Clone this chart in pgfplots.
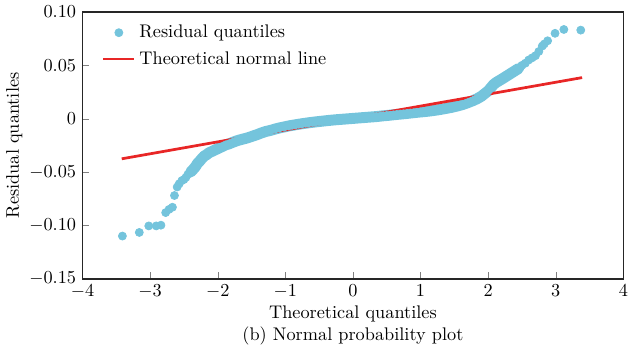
\documentclass[border=0pt]{standalone}
\usepackage{pgfplots}
\pgfplotsset{compat=1.18}
\definecolor{qblue}{RGB}{116,196,220}
\definecolor{qred}{RGB}{232,38,38}
\begin{document}
\begin{tikzpicture}
\begin{axis}[
  scale only axis,
  width=296pt, height=146pt,
  xmin=-4, xmax=4, ymin=-0.15, ymax=0.10,
  xtick={-4,-3,...,4},
  ytick={-0.15,-0.10,-0.05,0,0.05,0.10},
  yticklabels={$-0.15$,$-0.10$,$-0.05$,$0$,$0.05$,$0.10$},
  xtick pos=bottom, ytick pos=left,
  tick align=inside,
  major tick length=3.5pt,
  axis line style={line width=0.9pt, draw=black!85},
  xlabel={Theoretical quantiles\\(b) Normal probability plot},
  xlabel style={align=center, yshift=3pt},
  ylabel={Residual quantiles},
  ylabel style={yshift=-3pt},
  legend style={draw=none, fill=none, at={(0.025,0.98)}, anchor=north west, font=\normalsize, row sep=2pt},
  legend cell align=left,
]
\addplot[only marks, mark=*, mark size=2.2pt, color=qblue, mark options={draw=qblue, fill=qblue}] coordinates {
(-3.41,-0.110) (-3.16,-0.1066) (-3.02,-0.1005) (-2.91,-0.1005) (-2.84,-0.0998)
(-2.77,-0.088) (-2.72,-0.085) (-2.67,-0.083) (-2.64,-0.072)
(-2.60,-0.064) (-2.57,-0.061) (-2.53,-0.058) (-2.50,-0.057) (-2.47,-0.055)
(-2.44,-0.052) (-2.40,-0.050) (-2.37,-0.048) (-2.33,-0.045) (-2.30,-0.042)
(-2.27,-0.040) (-2.23,-0.037) (-2.20,-0.035) (-2.17,-0.034) (-2.13,-0.032)
(-2.08,-0.0305) (-2.03,-0.029) (-1.98,-0.0275) (-1.93,-0.026) (-1.88,-0.0245)
(-1.83,-0.0235) (-1.78,-0.0222) (-1.73,-0.021) (-1.68,-0.020) (-1.62,-0.019)
(-1.56,-0.018) (-1.49,-0.0165) (-1.42,-0.015) (-1.36,-0.0135) (-1.29,-0.012)
(-1.22,-0.011) (-1.15,-0.0097) (-1.09,-0.0087) (-1.02,-0.0078) (-0.95,-0.0068)
(-0.90,-0.0062) (-0.85,-0.0057) (-0.80,-0.0052) (-0.75,-0.0047) (-0.70,-0.0042)
(-0.65,-0.0038) (-0.60,-0.0034) (-0.55,-0.0030) (-0.50,-0.0026) (-0.45,-0.0023)
(-0.40,-0.0019) (-0.35,-0.0016) (-0.30,-0.0013) (-0.25,-0.0010) (-0.20,-0.0007)
(-0.15,-0.0005) (-0.10,-0.0002) (-0.05,0.0000) (0.00,0.0002) (0.05,0.0005)
(0.10,0.0007) (0.15,0.0010) (0.20,0.0012) (0.25,0.0015) (0.30,0.0017)
(0.35,0.0020) (0.40,0.0023) (0.45,0.0027) (0.50,0.0030) (0.55,0.0033)
(0.60,0.0036) (0.65,0.0040) (0.70,0.0043) (0.75,0.0046) (0.80,0.0050)
(0.85,0.0053) (0.90,0.0056) (0.95,0.0060) (1.00,0.0063) (1.05,0.0066)
(1.10,0.0070) (1.15,0.0073) (1.20,0.0077) (1.25,0.0082) (1.30,0.0087)
(1.35,0.0093) (1.40,0.0099) (1.45,0.0105) (1.50,0.0112) (1.55,0.0120)
(1.59,0.0127) (1.62,0.0132) (1.66,0.0140) (1.70,0.0150) (1.74,0.0160)
(1.78,0.0170) (1.81,0.0179) (1.84,0.0188) (1.87,0.0199) (1.90,0.0210)
(1.93,0.0222) (1.95,0.0235) (1.98,0.0247) (2.00,0.0260) (2.02,0.0275)
(2.04,0.0290) (2.06,0.0305) (2.08,0.0320) (2.12,0.0340) (2.16,0.0355)
(2.20,0.0370) (2.25,0.0390) (2.30,0.0410) (2.35,0.0430) (2.40,0.0450)
(2.45,0.0470) (2.50,0.0500) (2.55,0.0520) (2.60,0.0550) (2.65,0.0570)
(2.70,0.0590) (2.75,0.0630) (2.80,0.0680) (2.83,0.0700) (2.88,0.0730)
(2.99,0.0800) (3.12,0.0836) (3.37,0.0830)
};
\addlegendentry{Residual quantiles}
\addplot[color=qblue, line width=6pt, line cap=round, line join=round, mark=none, forget plot] coordinates {
(-2.40,-0.050) (-2.37,-0.048) (-2.33,-0.045) (-2.30,-0.042)
(-2.27,-0.040) (-2.23,-0.037) (-2.20,-0.035) (-2.17,-0.034) (-2.13,-0.032)
(-2.08,-0.0305) (-2.03,-0.029) (-1.98,-0.0275) (-1.93,-0.026) (-1.88,-0.0245)
(-1.83,-0.0235) (-1.78,-0.0222) (-1.73,-0.021) (-1.68,-0.020) (-1.62,-0.019)
(-1.56,-0.018) (-1.49,-0.0165) (-1.42,-0.015) (-1.36,-0.0135) (-1.29,-0.012)
(-1.22,-0.011) (-1.15,-0.0097) (-1.09,-0.0087) (-1.02,-0.0078) (-0.95,-0.0068)
(-0.85,-0.0057) (-0.75,-0.0047) (-0.65,-0.0038) (-0.55,-0.0030) (-0.45,-0.0023)
(-0.35,-0.0016) (-0.25,-0.0010) (-0.15,-0.0005) (-0.05,0.0000) (0.05,0.0005)
(0.15,0.0010) (0.25,0.0015) (0.35,0.0020) (0.45,0.0027) (0.55,0.0033)
(0.65,0.0040) (0.75,0.0046) (0.85,0.0053) (0.95,0.0060) (1.05,0.0066)
(1.15,0.0073) (1.25,0.0082) (1.35,0.0093) (1.45,0.0105) (1.55,0.0120)
(1.62,0.0132) (1.70,0.0150) (1.78,0.0170) (1.84,0.0188) (1.90,0.0210)
(1.95,0.0235) (2.00,0.0260) (2.04,0.0290) (2.08,0.0320) (2.12,0.0340)
(2.16,0.0355) (2.20,0.0370) (2.25,0.0390) (2.30,0.0410) (2.35,0.0430)
(2.40,0.0450) (2.45,0.0470)
};
\addplot[color=qred, line width=1.5pt, mark=none] coordinates {(-3.42,-0.0376) (3.39,0.0385)};
\addlegendentry{Theoretical normal line}
\end{axis}
\end{tikzpicture}
\end{document}
